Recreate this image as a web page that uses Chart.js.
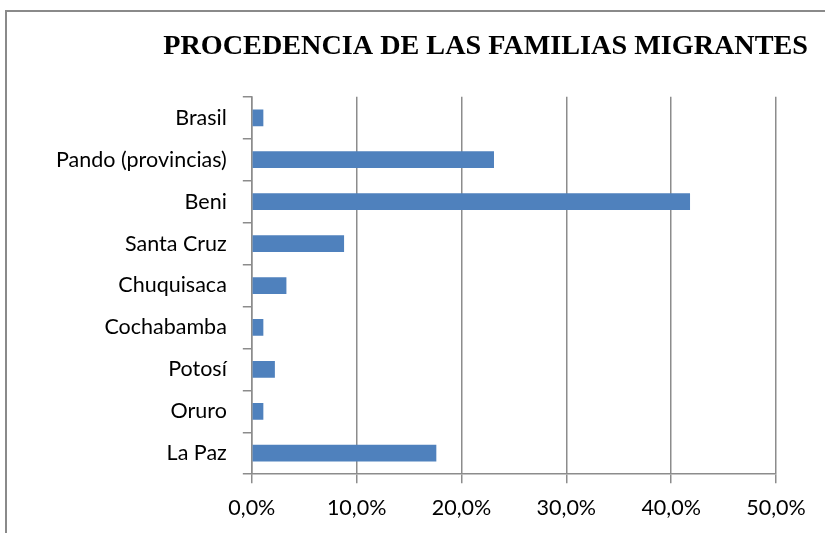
<!DOCTYPE html>
<html>
<head>
<meta charset="utf-8">
<script src="https://cdn.jsdelivr.net/npm/chart.js@4/dist/chart.umd.min.js"></script>
<style>
  html, body { margin: 0; padding: 0; background: #fff; }
  #wrap { position: relative; width: 825px; height: 533px; overflow: hidden; }
  #frame { position: absolute; left: 5px; top: 10px; width: 900px; height: 600px;
           border-left: 2px solid #8a8a8a; border-top: 2px solid #8a8a8a; box-sizing: border-box; }
  canvas { position: absolute; left: 0; top: 0; }
</style>
</head>
<body>
<div id="wrap">
  <div id="frame"></div>
  <canvas id="c" width="825" height="533"></canvas>
</div>
<script>
const titleText = 'PROCEDENCIA DE LAS FAMILIAS MIGRANTES';
const categories = ['Brasil', 'Pando (provincias)', 'Beni', 'Santa Cruz', 'Chuquisaca', 'Cochabamba', 'Potosí', 'Oruro', 'La Paz'];
const percentages = [1.1, 23.1, 41.8, 8.8, 3.3, 1.1, 2.2, 1.1, 17.6];
const xTickMax = 50;
const xTickStep = 10;

const gridColor = '#8c8c8c';
const labelFont = { family: 'Lato, "Open Sans", sans-serif', size: 21.5 };

new Chart(document.getElementById('c'), {
  type: 'bar',
  data: {
    labels: categories,
    datasets: [{
      data: percentages,
      backgroundColor: '#4f81bd',
      borderWidth: 0,
      barPercentage: 0.4,
      categoryPercentage: 1.0
    }]
  },
  options: {
    indexAxis: 'y',
    responsive: false,
    animation: false,
    layout: { padding: { left: 40, right: 17, top: 0, bottom: 0 } },
    plugins: {
      legend: { display: false },
      tooltip: { enabled: false },
      title: {
        display: true,
        text: titleText,
        align: 'end',
        color: '#000',
        font: { family: '"Liberation Serif", "Times New Roman", serif', size: 28.2, weight: 'bold' },
        padding: { top: 30, bottom: 33 }
      }
    },
    scales: {
      x: {
        min: 0,
        max: xTickMax,
        afterFit: s => { s.paddingRight = 49; },
        ticks: {
          stepSize: xTickStep,
          color: '#000',
          font: labelFont,
          padding: 12,
          callback: v => v.toFixed(1).replace('.', ',') + '%'
        },
        grid: { color: gridColor, lineWidth: 1.5, tickLength: 9, drawTicks: true },
        border: { color: gridColor, width: 1.5 }
      },
      y: {
        ticks: { color: '#000', font: labelFont, padding: 16 },
        grid: { display: true, drawOnChartArea: false, offset: true, color: gridColor, lineWidth: 1.5, tickLength: 9 },
        border: { color: gridColor, width: 1.5 }
      }
    }
  }
});
</script>
</body>
</html>
